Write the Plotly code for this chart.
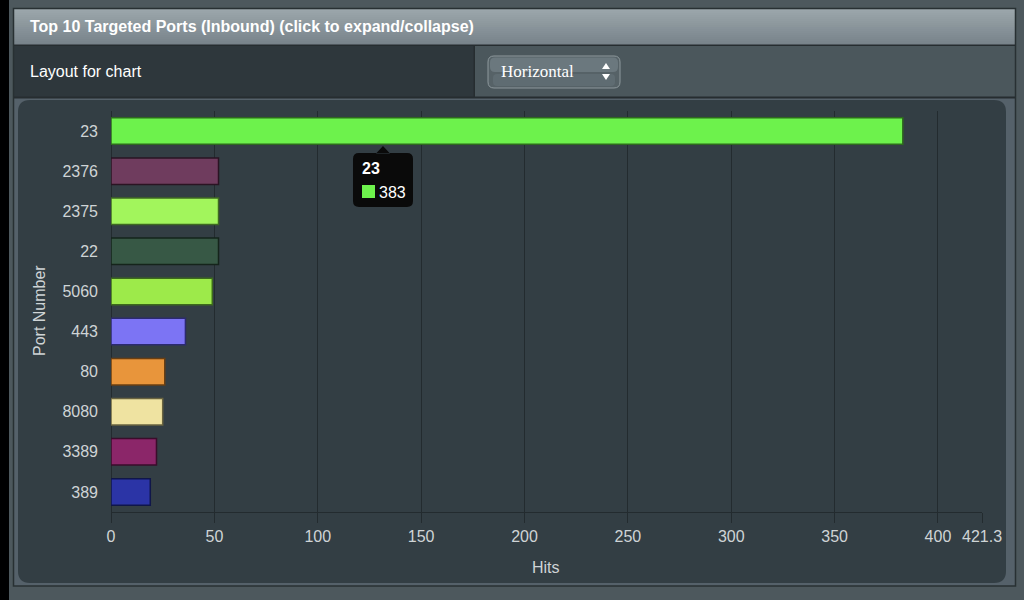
import plotly.graph_objects as go

# ---------------- data ----------------
ports = ["23", "2376", "2375", "22", "5060", "443", "80", "8080", "3389", "389"]
hits = [383, 52, 52, 52, 49, 36, 26, 25, 22, 19]
bar_colors = ["#6df24c", "#6f3c5e", "#a2f55c", "#375845", "#9dea4a",
              "#7c74f4", "#e8953b", "#efe3a1", "#8b2669", "#2b34a6"]
bar_edges = ["#2e6a1e", "#2a1423", "#3f6a22", "#15241b", "#3d6a1c",
             "#2c2a70", "#6a3f12", "#6a6440", "#3a0d2b", "#10164a"]
x_tick_values = [0, 50, 100, 150, 200, 250, 300, 350, 400, 421.3]
x_tick_labels = ["0", "50", "100", "150", "200", "250", "300", "350", "400", "421.3"]
x_max = 421.3
title_text = "Top 10 Targeted Ports (Inbound) (click to expand/collapse)"
x_title = "Hits"
y_title = "Port Number"

# ---------------- geometry helpers (pixel -> paper) ----------------
W, H = 1024, 600
ML, MR, MT, MB = 111, 42, 111, 88
PW, PH = W - ML - MR, H - MT - MB


def fx(px):
    return (px - ML) / PW


def fy(py):
    return (H - MB - py) / PH


def pt(px, py):
    return f"{fx(px):.5f},{fy(py):.5f}"


def rrect_path(x0, y0, x1, y1, r):
    return (f"M {pt(x0 + r, y0)} L {pt(x1 - r, y0)} Q {pt(x1, y0)} {pt(x1, y0 + r)} "
            f"L {pt(x1, y1 - r)} Q {pt(x1, y1)} {pt(x1 - r, y1)} "
            f"L {pt(x0 + r, y1)} Q {pt(x0, y1)} {pt(x0, y1 - r)} "
            f"L {pt(x0, y0 + r)} Q {pt(x0, y0)} {pt(x0 + r, y0)} Z")


def rect(x0, y0, x1, y1, fill, layer="below", line=None):
    d = dict(type="rect", xref="paper", yref="paper",
             x0=fx(x0), x1=fx(x1), y0=fy(y1), y1=fy(y0),
             fillcolor=fill, layer=layer, line=dict(width=0))
    if line:
        d["line"] = line
    return d


def hexrgb(h):
    h = h.lstrip("#")
    return tuple(int(h[i:i + 2], 16) for i in (0, 2, 4))


def gradient(x0, y0, x1, y1, c_top, c_bot, n=18):
    a, b = hexrgb(c_top), hexrgb(c_bot)
    out = []
    step = (y1 - y0) / n
    for i in range(n):
        t = i / (n - 1)
        c = tuple(round(a[k] + (b[k] - a[k]) * t) for k in range(3))
        out.append(rect(x0, y0 + i * step, x1, y0 + (i + 1) * step + 0.3,
                        "rgb(%d,%d,%d)" % c))
    return out


shapes = []
# page pieces
shapes.append(rect(9, 0, 1024, 600, "#4d585d"))
shapes.append(rect(14, 46, 474, 97, "#2e373c"))
shapes.append(rect(475, 46, 1015, 97, "#4b575c"))
shapes.append(rect(14, 98, 1015, 586, "#55616a"))
shapes += gradient(14, 9, 1015, 45, "#9ba6ab", "#78838a")
# separators / frame
shapes.append(rect(14, 44.5, 1015, 46, "#262d30"))
shapes.append(rect(14, 96.5, 1015, 98.5, "#262d30"))
shapes.append(rect(473.5, 46, 475, 97, "#262d30"))
shapes.append(dict(type="rect", xref="paper", yref="paper", layer="below",
                   x0=fx(13.5), x1=fx(1015.5), y0=fy(586), y1=fy(8.5),
                   line=dict(color="#283033", width=1.5), fillcolor="rgba(0,0,0,0)"))
# chart container
shapes.append(dict(type="path", xref="paper", yref="paper", layer="below",
                   path=rrect_path(18, 100, 1006, 583, 12),
                   fillcolor="#333e44", line=dict(width=0)))
# dropdown
shapes.append(dict(type="path", xref="paper", yref="paper", layer="below",
                   path=rrect_path(488, 56, 620, 88, 6),
                   fillcolor="#566267", line=dict(color="#8e999d", width=1)))
shapes.append(dict(type="path", xref="paper", yref="paper", layer="below",
                   path=rrect_path(490, 57.5, 618, 72, 5),
                   fillcolor="#6b787e", line=dict(width=0)))
shapes.append(dict(type="path", xref="paper", yref="paper", layer="below",
                   path=rrect_path(493, 74, 615, 86, 4),
                   fillcolor="#5f6c72", line=dict(width=0)))
shapes.append(dict(type="path", xref="paper", yref="paper", layer="below",
                   path=f"M {pt(602, 69)} L {pt(606, 63)} L {pt(610, 69)} Z",
                   fillcolor="#ffffff", line=dict(width=0)))
shapes.append(dict(type="path", xref="paper", yref="paper", layer="below",
                   path=f"M {pt(602, 74)} L {pt(606, 80)} L {pt(610, 74)} Z",
                   fillcolor="#ffffff", line=dict(width=0)))
# tooltip
shapes.append(dict(type="path", xref="paper", yref="paper", layer="above",
                   path=rrect_path(353, 153, 413, 207, 6) +
                   f" M {pt(376, 153.5)} L {pt(383, 146)} L {pt(390, 153.5)} Z",
                   fillcolor="#0a0a0a", line=dict(width=0)))
shapes.append(rect(362, 185, 375, 198, bar_colors[0], layer="above"))

SANS = "Liberation Sans, Arial, sans-serif"
annotations = [
    dict(text=f"<b>{title_text}</b>", x=fx(28), y=fy(27), xref="paper", yref="paper",
         xanchor="left", yanchor="middle", showarrow=False,
         font=dict(family="Liberation Sans Narrow, " + SANS, size=16, color="#ffffff")),
    dict(text="Layout for chart", x=fx(28), y=fy(72), xref="paper", yref="paper",
         xanchor="left", yanchor="middle", showarrow=False,
         font=dict(family=SANS, size=16, color="#ffffff")),
    dict(text="Horizontal", x=fx(499), y=fy(72), xref="paper", yref="paper",
         xanchor="left", yanchor="middle", showarrow=False,
         font=dict(family="Liberation Serif, Times New Roman, serif", size=17, color="#ffffff")),
    dict(text=y_title, x=fx(39), y=fy(311), xref="paper", yref="paper",
         xanchor="center", yanchor="middle", textangle=-90, showarrow=False,
         font=dict(family=SANS, size=16, color="#cfd4d6")),
    dict(text=x_title, x=fx(546), y=fy(567), xref="paper", yref="paper",
         xanchor="center", yanchor="middle", showarrow=False,
         font=dict(family=SANS, size=16, color="#cfd4d6")),
    dict(text=f"<b>{ports[0]}</b>", x=fx(360), y=fy(168), xref="paper", yref="paper",
         xanchor="left", yanchor="middle", showarrow=False,
         font=dict(family=SANS, size=16, color="#ffffff")),
    dict(text=str(hits[0]), x=fx(377), y=fy(192), xref="paper", yref="paper",
         xanchor="left", yanchor="middle", showarrow=False,
         font=dict(family=SANS, size=16, color="#ffffff")),
]

fig = go.Figure(go.Bar(
    x=hits, y=ports, orientation="h", width=0.66,
    marker=dict(color=bar_colors, line=dict(color=bar_edges, width=1.5)),
    hoverinfo="skip",
))

GRID = "#232b2f"
fig.update_layout(
    width=W, height=H, autosize=False,
    margin=dict(l=ML, r=MR, t=MT, b=MB, pad=0),
    paper_bgcolor="#000000", plot_bgcolor="rgba(0,0,0,0)",
    showlegend=False, shapes=shapes, annotations=annotations,
    xaxis=dict(range=[0, x_max], tickvals=x_tick_values, ticktext=x_tick_labels,
               showgrid=True, gridcolor=GRID, gridwidth=1,
               zeroline=True, zerolinecolor=GRID, zerolinewidth=1,
               showline=True, linecolor=GRID, linewidth=1,
               ticks="outside", ticklen=10, tickcolor=GRID, tickwidth=1,
               tickfont=dict(family=SANS, size=16, color="#cfd4d6"),
               fixedrange=True),
    yaxis=dict(type="category", categoryorder="array", categoryarray=ports,
               autorange="reversed", showgrid=False, zeroline=False, showline=False,
               ticks="", ticklabelstandoff=12,
               tickfont=dict(family=SANS, size=16, color="#cfd4d6"),
               fixedrange=True),
)

fig.write_html("out.html", config={"displayModeBar": False})
